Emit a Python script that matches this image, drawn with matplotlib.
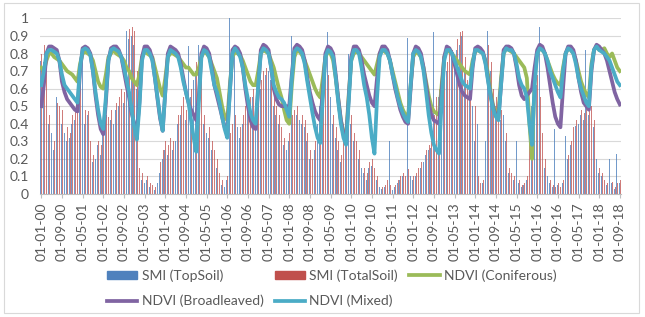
import numpy as np
import matplotlib.pyplot as plt
from matplotlib.patches import Rectangle
from matplotlib.lines import Line2D

# monthly values, Jan 2000 .. Sep 2018
smi_top = [
    0.76, 0.75, 0.70, 0.40, 0.35, 0.25, 0.55, 0.45, 0.40, 0.35, 0.30, 0.32, 0.40, 0.42, 0.95,
    0.70, 0.80, 0.40, 0.45, 0.25, 0.18, 0.20, 0.28, 0.22, 0.38, 0.40, 0.38, 0.42, 0.40, 0.48,
    0.50, 0.55, 0.52, 0.93, 0.88, 0.90, 0.85, 0.60, 0.10, 0.08, 0.06, 0.08, 0.04, 0.03, 0.02,
    0.06, 0.12, 0.20, 0.25, 0.22, 0.28, 0.25, 0.30, 0.40, 0.45, 0.50, 0.42, 0.84, 0.55, 0.65,
    0.70, 0.85, 0.62, 0.40, 0.35, 0.32, 0.25, 0.20, 0.15, 0.08, 0.05, 0.04, 0.08, 1.00, 0.35,
    0.85, 0.38, 0.32, 0.40, 0.45, 0.48, 0.50, 0.55, 0.52, 0.58, 0.60, 0.67, 0.68, 0.70, 0.65,
    0.50, 0.45, 0.40, 0.32, 0.28, 0.25, 0.30, 0.90, 0.42, 0.45, 0.42, 0.40, 0.38, 0.30, 0.20,
    0.15, 0.25, 0.40, 0.50, 0.55, 0.65, 0.92, 0.55, 0.40, 0.32, 0.25, 0.18, 0.35, 0.42, 0.80,
    0.40, 0.30, 0.25, 0.20, 0.15, 0.12, 0.08, 0.15, 0.16, 0.84, 0.08, 0.04, 0.03, 0.04, 0.06,
    0.30, 0.02, 0.04, 0.06, 0.08, 0.10, 0.08, 0.89, 0.10, 0.08, 0.10, 0.12, 0.15, 0.18, 0.22,
    0.25, 0.26, 0.92, 0.50, 0.55, 0.60, 0.68, 0.70, 0.75, 0.78, 0.80, 0.82, 0.85, 0.90, 0.72,
    0.60, 0.55, 0.50, 0.30, 0.40, 0.04, 0.06, 0.30, 0.93, 0.70, 0.55, 0.50, 0.40, 0.42, 0.45,
    0.30, 0.12, 0.10, 0.08, 0.30, 0.06, 0.04, 0.05, 0.08, 0.25, 0.50, 0.58, 0.62, 0.95, 0.30,
    0.15, 0.10, 0.06, 0.04, 0.37, 0.05, 0.03, 0.06, 0.33, 0.20, 0.28, 0.35, 0.39, 0.40, 0.45,
    0.42, 0.82, 0.45, 0.48, 0.38, 0.20, 0.12, 0.10, 0.06, 0.05, 0.20, 0.06, 0.03, 0.23, 0.06,
]
smi_total = [
    0.80, 0.85, 0.75, 0.45, 0.42, 0.30, 0.52, 0.50, 0.48, 0.40, 0.38, 0.35, 0.45, 0.48, 0.50,
    0.80, 0.75, 0.48, 0.47, 0.30, 0.22, 0.25, 0.30, 0.28, 0.42, 0.45, 0.44, 0.48, 0.46, 0.52,
    0.55, 0.60, 0.58, 0.90, 0.94, 0.95, 0.93, 0.70, 0.15, 0.12, 0.10, 0.10, 0.06, 0.05, 0.04,
    0.08, 0.18, 0.25, 0.30, 0.28, 0.32, 0.30, 0.35, 0.45, 0.50, 0.55, 0.48, 0.52, 0.60, 0.72,
    0.75, 0.70, 0.68, 0.45, 0.40, 0.38, 0.30, 0.25, 0.20, 0.12, 0.08, 0.06, 0.10, 0.35, 0.40,
    0.45, 0.42, 0.38, 0.45, 0.50, 0.52, 0.55, 0.60, 0.58, 0.62, 0.65, 0.70, 0.72, 0.75, 0.70,
    0.55, 0.50, 0.45, 0.38, 0.32, 0.30, 0.35, 0.45, 0.48, 0.50, 0.48, 0.45, 0.42, 0.35, 0.25,
    0.20, 0.30, 0.45, 0.55, 0.65, 0.70, 0.68, 0.60, 0.45, 0.38, 0.30, 0.22, 0.40, 0.48, 0.50,
    0.45, 0.35, 0.30, 0.25, 0.20, 0.15, 0.12, 0.18, 0.20, 0.15, 0.10, 0.06, 0.04, 0.05, 0.08,
    0.05, 0.03, 0.05, 0.08, 0.10, 0.12, 0.10, 0.14, 0.12, 0.10, 0.12, 0.15, 0.18, 0.22, 0.25,
    0.28, 0.30, 0.45, 0.55, 0.60, 0.65, 0.72, 0.75, 0.80, 0.82, 0.85, 0.88, 0.92, 0.93, 0.78,
    0.65, 0.60, 0.55, 0.50, 0.10, 0.06, 0.08, 0.35, 0.85, 0.75, 0.60, 0.55, 0.45, 0.48, 0.50,
    0.35, 0.15, 0.12, 0.10, 0.12, 0.08, 0.05, 0.06, 0.10, 0.30, 0.55, 0.62, 0.68, 0.55, 0.35,
    0.20, 0.12, 0.08, 0.05, 0.04, 0.06, 0.04, 0.08, 0.15, 0.22, 0.30, 0.38, 0.42, 0.45, 0.48,
    0.46, 0.50, 0.48, 0.50, 0.42, 0.25, 0.15, 0.12, 0.08, 0.06, 0.05, 0.07, 0.04, 0.06, 0.08,
]
ndvi_conif = [
    0.72, 0.70, 0.76, 0.80, 0.80, 0.78, 0.77, 0.76, 0.74, 0.72, 0.70, 0.69, 0.68, 0.66, 0.64,
    0.74, 0.80, 0.81, 0.80, 0.79, 0.76, 0.70, 0.64, 0.61, 0.60, 0.68, 0.78, 0.80, 0.82, 0.80,
    0.79, 0.78, 0.76, 0.72, 0.70, 0.66, 0.64, 0.62, 0.68, 0.78, 0.81, 0.80, 0.79, 0.78, 0.72,
    0.66, 0.60, 0.56, 0.66, 0.78, 0.80, 0.80, 0.79, 0.78, 0.76, 0.74, 0.72, 0.72, 0.70, 0.68,
    0.68, 0.72, 0.78, 0.81, 0.80, 0.78, 0.74, 0.70, 0.66, 0.58, 0.50, 0.44, 0.42, 0.62, 0.78,
    0.81, 0.80, 0.79, 0.76, 0.72, 0.68, 0.64, 0.62, 0.62, 0.70, 0.80, 0.82, 0.81, 0.80, 0.76,
    0.72, 0.66, 0.60, 0.55, 0.48, 0.42, 0.40, 0.62, 0.78, 0.82, 0.81, 0.79, 0.76, 0.72, 0.68,
    0.64, 0.60, 0.57, 0.55, 0.66, 0.78, 0.81, 0.80, 0.76, 0.66, 0.54, 0.42, 0.35, 0.32, 0.56,
    0.76, 0.80, 0.81, 0.80, 0.78, 0.76, 0.74, 0.72, 0.70, 0.68, 0.74, 0.80, 0.82, 0.81, 0.80,
    0.76, 0.70, 0.64, 0.58, 0.52, 0.48, 0.45, 0.44, 0.62, 0.78, 0.81, 0.80, 0.78, 0.72, 0.64,
    0.56, 0.50, 0.47, 0.46, 0.45, 0.62, 0.78, 0.82, 0.81, 0.80, 0.78, 0.76, 0.74, 0.72, 0.70,
    0.69, 0.68, 0.76, 0.81, 0.82, 0.81, 0.80, 0.76, 0.68, 0.58, 0.50, 0.47, 0.46, 0.66, 0.80,
    0.83, 0.82, 0.81, 0.80, 0.78, 0.76, 0.74, 0.72, 0.66, 0.40, 0.20, 0.66, 0.80, 0.83, 0.82,
    0.80, 0.76, 0.72, 0.68, 0.65, 0.63, 0.62, 0.72, 0.80, 0.83, 0.82, 0.80, 0.76, 0.70, 0.64,
    0.60, 0.57, 0.55, 0.74, 0.82, 0.84, 0.82, 0.82, 0.83, 0.80, 0.78, 0.80, 0.76, 0.72, 0.70,
]
ndvi_broad = [
    0.50, 0.62, 0.80, 0.84, 0.84, 0.83, 0.82, 0.76, 0.64, 0.58, 0.54, 0.52, 0.50, 0.48, 0.47,
    0.70, 0.83, 0.84, 0.83, 0.80, 0.70, 0.56, 0.45, 0.37, 0.34, 0.52, 0.76, 0.83, 0.84, 0.84,
    0.82, 0.78, 0.70, 0.62, 0.55, 0.46, 0.40, 0.36, 0.52, 0.78, 0.84, 0.84, 0.82, 0.77, 0.66,
    0.54, 0.43, 0.36, 0.58, 0.80, 0.84, 0.83, 0.82, 0.80, 0.74, 0.66, 0.58, 0.52, 0.48, 0.45,
    0.42, 0.56, 0.80, 0.84, 0.83, 0.80, 0.72, 0.62, 0.56, 0.50, 0.44, 0.38, 0.36, 0.58, 0.82,
    0.84, 0.83, 0.80, 0.72, 0.60, 0.50, 0.42, 0.38, 0.37, 0.60, 0.82, 0.85, 0.84, 0.82, 0.72,
    0.60, 0.54, 0.51, 0.50, 0.50, 0.50, 0.50, 0.68, 0.83, 0.85, 0.84, 0.82, 0.76, 0.66, 0.58,
    0.52, 0.47, 0.44, 0.42, 0.58, 0.80, 0.84, 0.83, 0.80, 0.68, 0.54, 0.42, 0.34, 0.30, 0.54,
    0.78, 0.84, 0.84, 0.82, 0.76, 0.68, 0.62, 0.56, 0.52, 0.50, 0.66, 0.80, 0.84, 0.84, 0.82,
    0.76, 0.68, 0.60, 0.54, 0.48, 0.44, 0.41, 0.40, 0.60, 0.80, 0.84, 0.83, 0.80, 0.72, 0.62,
    0.52, 0.45, 0.42, 0.41, 0.40, 0.58, 0.78, 0.84, 0.83, 0.80, 0.74, 0.68, 0.62, 0.58, 0.56,
    0.55, 0.54, 0.72, 0.83, 0.84, 0.83, 0.81, 0.75, 0.65, 0.56, 0.49, 0.45, 0.43, 0.62, 0.82,
    0.84, 0.84, 0.83, 0.80, 0.72, 0.62, 0.56, 0.54, 0.56, 0.58, 0.60, 0.72, 0.82, 0.85, 0.84,
    0.80, 0.72, 0.62, 0.52, 0.44, 0.40, 0.38, 0.60, 0.80, 0.84, 0.84, 0.82, 0.76, 0.66, 0.58,
    0.52, 0.50, 0.48, 0.70, 0.82, 0.85, 0.84, 0.82, 0.80, 0.76, 0.70, 0.64, 0.58, 0.54, 0.51,
]
ndvi_mixed = [
    0.62, 0.70, 0.80, 0.82, 0.82, 0.81, 0.80, 0.76, 0.68, 0.62, 0.60, 0.58, 0.56, 0.54, 0.52,
    0.72, 0.82, 0.83, 0.82, 0.79, 0.70, 0.58, 0.48, 0.40, 0.37, 0.55, 0.76, 0.82, 0.83, 0.82,
    0.81, 0.78, 0.72, 0.65, 0.58, 0.48, 0.38, 0.31, 0.50, 0.76, 0.82, 0.82, 0.80, 0.76, 0.66,
    0.55, 0.44, 0.36, 0.58, 0.78, 0.82, 0.81, 0.80, 0.78, 0.72, 0.64, 0.58, 0.52, 0.42, 0.32,
    0.24, 0.52, 0.78, 0.82, 0.81, 0.78, 0.70, 0.62, 0.58, 0.52, 0.44, 0.37, 0.32, 0.58, 0.80,
    0.83, 0.81, 0.78, 0.72, 0.62, 0.54, 0.46, 0.42, 0.40, 0.62, 0.80, 0.83, 0.82, 0.80, 0.72,
    0.62, 0.58, 0.55, 0.54, 0.52, 0.48, 0.44, 0.66, 0.81, 0.83, 0.82, 0.80, 0.74, 0.64, 0.55,
    0.46, 0.38, 0.32, 0.29, 0.55, 0.78, 0.82, 0.81, 0.78, 0.66, 0.52, 0.40, 0.32, 0.28, 0.52,
    0.76, 0.82, 0.82, 0.80, 0.72, 0.62, 0.55, 0.45, 0.32, 0.23, 0.55, 0.78, 0.82, 0.82, 0.80,
    0.76, 0.68, 0.62, 0.55, 0.50, 0.46, 0.43, 0.41, 0.62, 0.80, 0.82, 0.81, 0.78, 0.70, 0.58,
    0.45, 0.35, 0.28, 0.25, 0.23, 0.52, 0.76, 0.82, 0.82, 0.80, 0.76, 0.72, 0.68, 0.64, 0.62,
    0.61, 0.60, 0.74, 0.82, 0.82, 0.81, 0.80, 0.74, 0.64, 0.55, 0.48, 0.44, 0.42, 0.62, 0.80,
    0.83, 0.82, 0.82, 0.80, 0.74, 0.66, 0.62, 0.60, 0.55, 0.40, 0.28, 0.62, 0.80, 0.83, 0.82,
    0.80, 0.76, 0.70, 0.66, 0.62, 0.58, 0.55, 0.70, 0.80, 0.83, 0.82, 0.80, 0.74, 0.66, 0.60,
    0.56, 0.52, 0.50, 0.72, 0.82, 0.84, 0.82, 0.81, 0.80, 0.78, 0.76, 0.72, 0.68, 0.64, 0.62,
]
tick_labels = [
    "01-01-00", "01-09-00", "01-05-01", "01-01-02", "01-09-02", "01-05-03", "01-01-04",
    "01-09-04", "01-05-05", "01-01-06", "01-09-06", "01-05-07", "01-01-08", "01-09-08",
    "01-05-09", "01-01-10", "01-09-10", "01-05-11", "01-01-12", "01-09-12", "01-05-13",
    "01-01-14", "01-09-14", "01-05-15", "01-01-16", "01-09-16", "01-05-17", "01-01-18",
    "01-09-18",
]
tick_step = 8

plt.rcParams['font.family'] = ['Lato', 'DejaVu Sans']
grey = '#595959'
c_top, c_tot = '#4F81BD', '#C0504D'
c_con, c_bro, c_mix = '#9BBB59', '#8064A2', '#4BACC6'
lw = 2.7

x = np.arange(len(smi_top))
fig = plt.figure(figsize=(6.45, 3.17), dpi=100)
ax = fig.add_axes([0.062, 0.388, 0.901, 0.554])

ax.bar(x - 0.16, smi_top, width=0.32, color=c_top, linewidth=0, alpha=0.8)
ax.bar(x + 0.16, smi_total, width=0.32, color=c_tot, linewidth=0, alpha=0.75)
ax.plot(x, ndvi_conif, color=c_con, lw=lw)
ax.plot(x, ndvi_broad, color=c_bro, lw=lw)
ax.plot(x, ndvi_mixed, color=c_mix, lw=lw)

ax.set_xlim(-0.5, len(x) - 0.5)
ax.set_ylim(0, 1)
ax.set_yticks(np.arange(0, 1.01, 0.1))
ax.set_yticklabels(['0', '0.1', '0.2', '0.3', '0.4', '0.5', '0.6', '0.7', '0.8', '0.9', '1'])
ax.set_xticks(np.arange(0, len(x), tick_step))
ax.set_xticklabels(tick_labels, rotation=90)
ax.tick_params(axis='y', length=0, labelsize=10, colors=grey, pad=8)
ax.tick_params(axis='x', length=3, color='#BFBFBF', labelsize=10, labelcolor=grey, pad=3)
ax.grid(axis='y', color='#D9D9D9', lw=0.8)
ax.set_axisbelow(True)
for s in ['top', 'right', 'left']:
    ax.spines[s].set_visible(False)
ax.spines['bottom'].set_color('#BFBFBF')

handles = [
    Rectangle((0, 0), 1, 1, color=c_top),
    Line2D([], [], color=c_bro, lw=lw),
    Rectangle((0, 0), 1, 1, color=c_tot),
    Line2D([], [], color=c_mix, lw=lw),
    Line2D([], [], color=c_con, lw=lw),
]
labels = ['SMI (TopSoil)', 'NDVI (Broadleaved)', 'SMI (TotalSoil)', 'NDVI (Mixed)',
          'NDVI (Coniferous)']
leg = fig.legend(handles, labels, ncol=3, loc='upper left', bbox_to_anchor=(0.155, 0.172),
                 frameon=False, fontsize=10, handlelength=2.2, handleheight=0.6,
                 handletextpad=0.3, columnspacing=0.8, labelspacing=0.93, borderpad=0)
for t in leg.get_texts():
    t.set_color(grey)

fig.patches.append(Rectangle((0.006, 0.012), 0.985, 0.978, transform=fig.transFigure,
                             fill=False, edgecolor='#D9D9D9', lw=0.8))
fig.savefig('out.png', dpi=100)
